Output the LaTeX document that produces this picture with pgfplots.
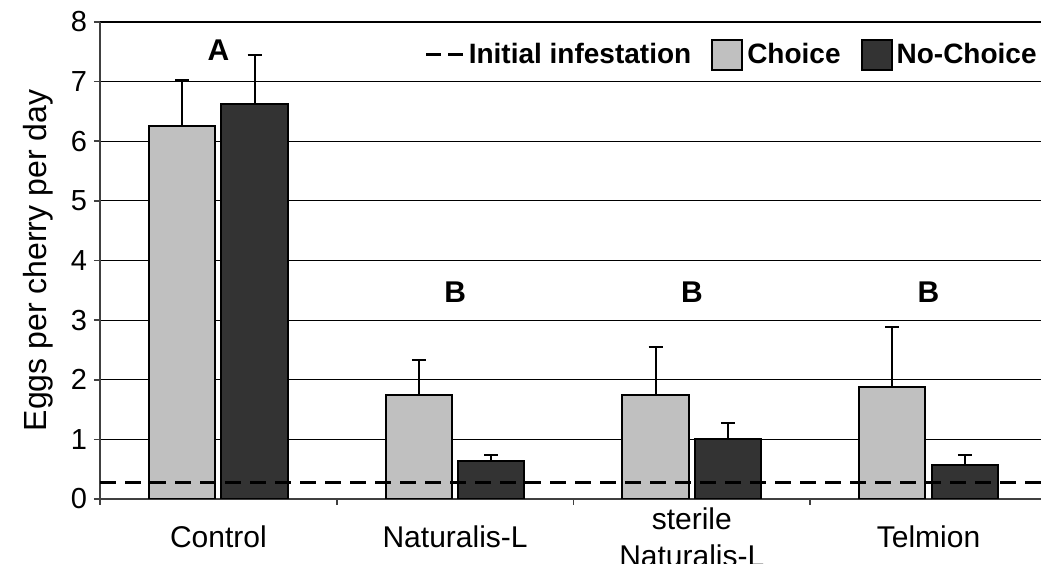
\documentclass[border=0pt]{standalone}
\usepackage{fontspec}
\setmainfont{Liberation Sans}
\usepackage{pgfplots}
\pgfplotsset{compat=1.18}
\definecolor{choiceGray}{RGB}{192,192,192}
\definecolor{noChoiceGray}{RGB}{51,51,51}
\pgfplotsset{
  boxlegend/.style={legend image code/.code={\draw[##1] (0pt,-7.5pt) rectangle (15pt,7.5pt);}},
  dashlegend/.style={legend image code/.code={\draw[##1] (0pt,0pt) -- (18.5pt,0pt);}},
  errbar/.style={error bars/.cd,y dir=plus,y explicit,
    error bar style={line width=1pt,black,solid},
    error mark options={rotate=90,mark size=3.5pt,line width=1pt,black}},
}

\begin{document}
\begin{tikzpicture}
\begin{axis}[name=ax,scale only axis,width=470.5pt,height=238.5pt,
  xmin=-0.5,xmax=3.475,ymin=0,ymax=8,ytick={0,...,8},
  axis lines=left,axis line style={-,line width=0.8pt,black!75},
  ymajorgrids,grid style={line width=0.6pt,black},
  tick align=outside,major tick length=3pt,tick style={line width=0.8pt,black!75},
  xtick={-0.5,0.5,1.5,2.5},xticklabels={,,,},
  extra x ticks={0,1,2,3},
  extra x tick labels={Control,Naturalis-L,{sterile\\Naturalis-L},Telmion},
  extra x tick style={major tick length=0pt,grid=none,
    xticklabel style={align=center,anchor=center,yshift=-19pt,font=\fontsize{15}{18.5}\selectfont}},
  tick label style={font=\fontsize{14.5}{17}\selectfont},
  /pgf/number format/assume math mode=true,
  ylabel={Eggs per cherry per day},ylabel shift=2pt,
  label style={font=\fontsize{16}{18}\selectfont},
  legend columns=3,
  legend style={at={(1,0.931)},anchor=east,draw=none,fill=none,inner sep=0pt,
    font=\bfseries\fontsize{14}{16}\selectfont,
    /tikz/every even column/.append style={column sep=8pt}},
]
\addlegendimage{line width=1.5pt,dash pattern=on 7.5pt off 3.5pt,dashlegend}
\addlegendentry{Initial infestation}

% bars placed at group centre -/+ 0.153
\addplot[ybar,bar width=0.28,bar shift=0pt,fill=choiceGray,draw=black,line width=1pt,
  boxlegend,errbar]
  coordinates {(-0.153,6.26) +- (0,0.77) (0.847,1.75) +- (0,0.58) (1.847,1.75) +- (0,0.80) (2.847,1.88) +- (0,1.01)};
\addlegendentry{Choice}

\addplot[ybar,bar width=0.28,bar shift=0pt,fill=noChoiceGray,draw=black,line width=1pt,
  boxlegend,errbar]
  coordinates {(0.153,6.63) +- (0,0.82) (1.153,0.64) +- (0,0.10) (2.153,1.01) +- (0,0.26) (3.153,0.565) +- (0,0.175)};
\addlegendentry{No-Choice}

\addplot[forget plot,black,line width=1.6pt,dash pattern=on 8pt off 4.5pt]
  coordinates {(-0.5,0.28) (3.475,0.28)};

\node[font=\bfseries\fontsize{15}{18}\selectfont] at (axis cs:0,7.53) {A};
\node[font=\bfseries\fontsize{15}{18}\selectfont] at (axis cs:1,3.47) {B};
\node[font=\bfseries\fontsize{15}{18}\selectfont] at (axis cs:2,3.47) {B};
\node[font=\bfseries\fontsize{15}{18}\selectfont] at (axis cs:3,3.47) {B};
\end{axis}
\pgfresetboundingbox
\path[use as bounding box] ([shift={(-50pt,-32.5pt)}]ax.south west) rectangle ([shift={(0pt,11pt)}]ax.north east);
\end{tikzpicture}
\end{document}
